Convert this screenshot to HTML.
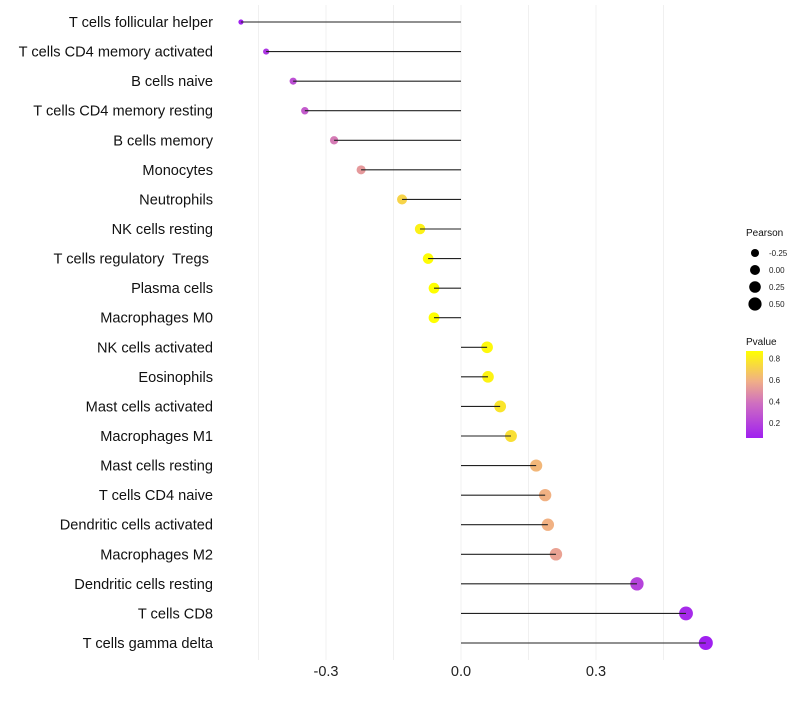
<!DOCTYPE html>
<html><head><meta charset="utf-8"><style>
body{margin:0;background:#fff;font-family:"Liberation Sans",sans-serif}
text{white-space:pre}
</style></head><body>
<svg id="chart" width="800" height="700" xmlns="http://www.w3.org/2000/svg" font-family="Liberation Sans, sans-serif">
<defs><linearGradient id="pg" x1="0" y1="1" x2="0" y2="0">
<stop offset="0" stop-color="#a020f0"/><stop offset="0.4" stop-color="#cf6fc0"/><stop offset="0.65" stop-color="#f0ae88"/><stop offset="1" stop-color="#ffff00"/></linearGradient></defs>
<g id="grid"></g><g id="marks"></g><g id="labels"></g><g id="legend"></g>
</svg>
<script>
const categories=["T cells follicular helper","T cells CD4 memory activated","B cells naive","T cells CD4 memory resting","B cells memory","Monocytes","Neutrophils","NK cells resting","T cells regulatory  Tregs ","Plasma cells","Macrophages M0","NK cells activated","Eosinophils","Mast cells activated","Macrophages M1","Mast cells resting","T cells CD4 naive","Dendritic cells activated","Macrophages M2","Dendritic cells resting","T cells CD8","T cells gamma delta"];
const pearson=[-0.489,-0.433,-0.373,-0.347,-0.282,-0.222,-0.131,-0.091,-0.073,-0.060,-0.060,0.058,0.060,0.087,0.111,0.167,0.187,0.193,0.211,0.391,0.500,0.544];
const pvalue=[0.06,0.15,0.25,0.3,0.42,0.52,0.72,0.82,0.86,0.87,0.87,0.85,0.83,0.78,0.76,0.62,0.6,0.6,0.55,0.2,0.1,0.06];
const xTicks=[-0.3,0.0,0.3];
const xTickLabels=["-0.3","0.0","0.3"];
const gridVals=[-0.45,-0.3,-0.15,0,0.15,0.3,0.45];
const sizeLegend=[-0.25,0,0.25,0.5];
const colorLegend=[0.2,0.4,0.6,0.8];
const NS="http://www.w3.org/2000/svg";
const X=v=>461+v*450;
const Y=i=>22+i*(643-22)/(categories.length-1);
const R=v=>Math.sqrt(Math.max(2.5,v<0?32+52*v:32+32*v));
const PY=p=>438-(p-0.06)*(87/0.81);
function lerp(a,b,t){return a.map((x,i)=>Math.round(x+(b[i]-x)*t));}
const stops=[[0.06,[160,32,240]],[0.38,[207,111,192]],[0.59,[240,174,136]],[0.87,[255,255,0]]];
function col(p){p=Math.max(0.06,Math.min(0.87,p));for(let i=0;i<stops.length-1;i++){if(p<=stops[i+1][0]){const t=(p-stops[i][0])/(stops[i+1][0]-stops[i][0]);return "rgb("+lerp(stops[i][1],stops[i+1][1],t).join(",")+")";}}return "rgb(255,255,0)";}
function mk(tag,attrs,parent,text){const e=document.createElementNS(NS,tag);for(const k in attrs)e.setAttribute(k,attrs[k]);if(text!==undefined)e.textContent=text;document.getElementById(parent).appendChild(e);return e;}
gridVals.forEach(v=>{const l=mk("line",{x1:X(v),x2:X(v),y1:5,y2:660,stroke:"#f0f0f0","stroke-width":1},"grid");

});
xTicks.forEach((v,i)=>{const t=mk("text",{x:X(v),y:676,"text-anchor":"middle","font-size":14.5,fill:"#222"},"labels",xTickLabels[i]);

});
categories.forEach((c,i)=>{
const y=Y(i);
const t=mk("text",{x:213,y:y+5,"text-anchor":"end","font-size":14.6,fill:"#111"},"labels",c);


const pt=mk("circle",{cx:X(pearson[i]),cy:y,r:R(pearson[i]),fill:col(pvalue[i])},"marks");


const ln=mk("line",{x1:X(pearson[i]),x2:X(0),y1:y,y2:y,stroke:"#222","stroke-width":1.1},"marks");


});
const t1=mk("text",{x:746,y:236,"font-size":10,fill:"#111"},"legend","Pearson");


sizeLegend.forEach((v,i)=>{const y=253+i*17;
const c=mk("circle",{cx:755,cy:y,r:[4,5,5.8,6.6][i],fill:"#000"},"legend");


const t=mk("text",{x:769,y:y+3,"font-size":8,fill:"#222"},"legend",v===0?"0.00":v.toFixed(2));

});
const t2=mk("text",{x:746,y:345,"font-size":10,fill:"#111"},"legend","Pvalue");


const bar=mk("rect",{x:746,y:351,width:17,height:87,fill:"url(#pg)"},"legend");


colorLegend.forEach(v=>{const y=PY(v);
const t=mk("text",{x:769,y:y+3,"font-size":8,fill:"#222"},"legend",v.toFixed(1));

});
</script>
</body></html>
